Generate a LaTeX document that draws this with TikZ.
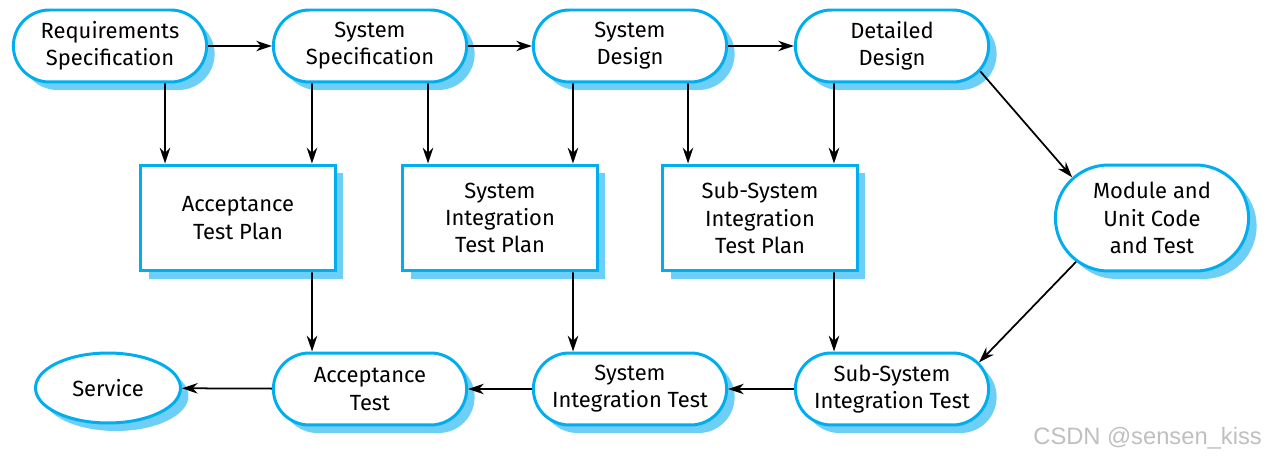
\documentclass[tikz,border=0pt]{standalone}
\usepackage{fontspec}
\setmainfont{Fira Sans}
\newfontfamily\markfont{Liberation Sans}
\usepackage{tikz}
\usetikzlibrary{shapes,arrows.meta,positioning,shadows}
\definecolor{vblue}{RGB}{0,174,239}
\definecolor{vshade}{RGB}{109,207,246}

\begin{document}
\begin{tikzpicture}[x=0.02cm, y=-0.02cm,
    phase/.style={rounded rectangle, draw=vblue, line width=1.7pt, fill=white,
                  minimum width=4.1cm, minimum height=1.44cm, align=center,
                  font=\fontsize{12.5}{15.5}\selectfont,
                  drop shadow={shadow xshift=0.16cm, shadow yshift=-0.16cm, fill=vshade, opacity=1}},
    plan/.style={rectangle, draw=vblue, line width=1.7pt, fill=white,
                 minimum width=3.9cm, minimum height=2.12cm, align=center,
                 font=\fontsize{12.5}{15.5}\selectfont,
                 drop shadow={shadow xshift=0.16cm, shadow yshift=-0.16cm, fill=vshade, opacity=1}},
    arrow/.style={-{Stealth[length=9pt,width=6pt]}, line width=1pt}
]
\useasboundingbox (0,0) rectangle (1272,459);

% Specification phases
\node[phase] (req) at (110, 46) {Requirements\\Specification};
\node[phase] (sysspec) at (370, 46) {System\\Specification};
\node[phase] (sysdes) at (630, 46) {System\\Design};
\node[phase] (detdes) at (892, 46) {Detailed\\Design};

% Test plans
\node[plan] (atp) at (238, 218) {Acceptance\\Test Plan};
\node[plan] (sitp) at (500, 218) {System\\Integration\\Test Plan};
\node[plan] (ssitp) at (760, 218) {Sub-System\\Integration\\Test Plan};
\node[phase, minimum height=2.12cm] (unit) at (1152, 218) {Module and\\Unit Code\\and Test};

% Testing phases
\node[ellipse, draw=vblue, line width=1.7pt, fill=white, minimum width=2.9cm, minimum height=1.4cm,
      font=\fontsize{12.5}{15.5}\selectfont,
      drop shadow={shadow xshift=0.16cm, shadow yshift=-0.16cm, fill=vshade, opacity=1}] (service) at (108, 388) {Service};
\node[phase] (acc) at (370, 389) {Acceptance\\Test};
\node[phase] (sit) at (630, 389) {System\\Integration Test};
\node[phase] (ssit) at (892, 389) {Sub-System\\Integration Test};

% Connections
\draw[arrow] (req) -- (sysspec);
\draw[arrow] (sysspec) -- (sysdes);
\draw[arrow] (sysdes) -- (detdes);
\draw[arrow] ([xshift=1.1cm]req.south) -- ([xshift=-1.46cm]atp.north);
\draw[arrow] ([xshift=-1.16cm]sysspec.south) -- ([xshift=1.48cm]atp.north);
\draw[arrow] ([xshift=1.16cm]sysspec.south) -- ([xshift=-1.44cm]sitp.north);
\draw[arrow] ([xshift=-1.14cm]sysdes.south) -- ([xshift=1.46cm]sitp.north);
\draw[arrow] ([xshift=1.16cm]sysdes.south) -- ([xshift=-1.44cm]ssitp.north);
\draw[arrow] ([xshift=-1.16cm]detdes.south) -- ([xshift=1.48cm]ssitp.north);
\draw[arrow] (detdes.-16) -- (unit.153);
\draw[arrow] (unit.210) -- (ssit.17);
\draw[arrow] ([xshift=1.48cm]atp.south) -- ([xshift=-1.16cm]acc.north);
\draw[arrow] ([xshift=1.46cm]sitp.south) -- ([xshift=-1.14cm]sit.north);
\draw[arrow] ([xshift=1.48cm]ssitp.south) -- ([xshift=-1.16cm]ssit.north);
\draw[arrow] (ssit) -- (sit);
\draw[arrow] (sit) -- (acc);
\draw[arrow] (acc) -- (service);

% Watermark
\node[text=black!25, font=\markfont\fontsize{13.5}{16}\selectfont, anchor=east] (mark) at (1268, 438) {CSDN @sensen\_kiss};

\end{tikzpicture}
\end{document}
